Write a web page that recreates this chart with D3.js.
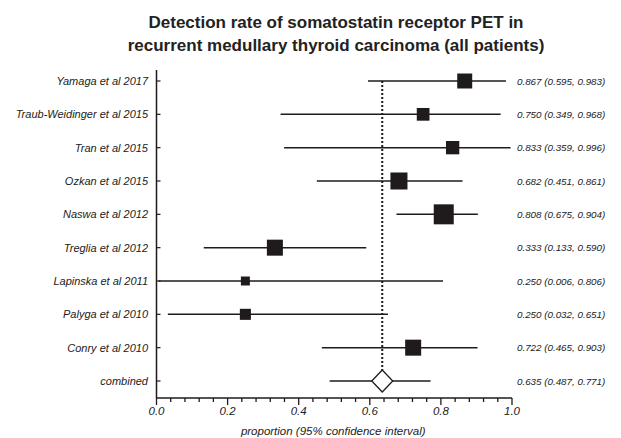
<!DOCTYPE html>
<html>
<head>
<meta charset="utf-8">
<script src="https://cdn.jsdelivr.net/npm/d3@7"></script>
<style>
  html, body { margin: 0; padding: 0; background: #fff; }
  svg { display: block; }
  text { font-family: "Liberation Sans", Arial, Helvetica, sans-serif; fill: #222; }
</style>
</head>
<body>
<svg id="chart" width="621" height="438"></svg>
<script>
const studies = ["Yamaga et al 2017", "Traub-Weidinger et al 2015", "Tran et al 2015", "Ozkan et al 2015",
  "Naswa et al 2012", "Treglia et al 2012", "Lapinska et al 2011", "Palyga et al 2010", "Conry et al 2010"];
const estimate = [0.867, 0.750, 0.833, 0.682, 0.808, 0.333, 0.250, 0.250, 0.722];
const lower    = [0.595, 0.349, 0.359, 0.451, 0.675, 0.133, 0.006, 0.032, 0.465];
const upper    = [0.983, 0.968, 0.996, 0.861, 0.904, 0.590, 0.806, 0.651, 0.903];
const weights  = [11.4, 8.2, 9.0, 14.7, 20.3, 13.0, 4.1, 6.2, 13.0];
const combined = { label: "combined", est: 0.635, lo: 0.487, hi: 0.771 };
const majorTicks = [0, 0.2, 0.4, 0.6, 0.8, 1.0];
const minorTicks = d3.range(0, 1.0001, 0.04);
const titleLines = ["Detection rate of somatostatin receptor PET in", "recurrent medullary thyroid carcinoma (all patients)"];
const xTitle = "proportion (95% confidence interval)";

const svg = d3.select("#chart");
const ink = "#1f1b1c";

const rows = studies.concat([combined.label]);
const x = d3.scaleLinear().domain([0, 1]).range([156.5, 512]);
const y = d3.scalePoint().domain(rows).range([81, 381]);
const size = d3.scaleSqrt().domain([0, 20.3]).range([0, 20]);

// Title
svg.append("g").selectAll("text").data(titleLines).join("text")
  .attr("x", 336).attr("y", (d, i) => 28 + i * 23)
  .attr("text-anchor", "middle")
  .style("font-size", "17px").style("font-weight", "bold")
  .text(d => d);

// Y axis line
svg.append("line").attr("x1", x(0)).attr("x2", x(0)).attr("y1", 70).attr("y2", 398)
  .attr("stroke", ink).attr("stroke-width", 1.5);
svg.append("g").selectAll("line").data(rows).join("line")
  .attr("x1", x(0)).attr("x2", x(0) + 4)
  .attr("y1", d => y(d)).attr("y2", d => y(d))
  .attr("stroke", ink).attr("stroke-width", 1.2);

// X axis
const axisY = 398;
svg.append("line").attr("x1", x(0)).attr("x2", x(1)).attr("y1", axisY).attr("y2", axisY)
  .attr("stroke", ink).attr("stroke-width", 1.5);
svg.append("g").selectAll("line").data(minorTicks).join("line")
  .attr("x1", d => x(d)).attr("x2", d => x(d))
  .attr("y1", axisY).attr("y2", d => majorTicks.some(m => Math.abs(m - d) < 1e-6) ? axisY + 7 : axisY + 4)
  .attr("stroke", ink).attr("stroke-width", 1.3);
svg.append("g").selectAll("text").data(majorTicks).join("text")
  .attr("x", d => x(d)).attr("y", axisY + 17)
  .attr("text-anchor", "middle")
  .style("font-size", "11.5px").style("font-style", "italic")
  .text(d => d3.format(".1f")(d));
svg.append("text").attr("x", x(0.5) - 1).attr("y", 435)
  .attr("text-anchor", "middle")
  .style("font-size", "11.5px").style("font-style", "italic")
  .text(xTitle);

// dotted combined line
svg.append("line").attr("x1", x(combined.est)).attr("x2", x(combined.est))
  .attr("y1", y(studies[0])).attr("y2", y(combined.label) - 11)
  .attr("stroke", ink).attr("stroke-width", 2).attr("stroke-dasharray", "2,2");

// Study labels
svg.append("g").selectAll("text").data(rows).join("text")
  .attr("x", 148).attr("y", d => y(d) + 4)
  .attr("text-anchor", "end")
  .style("font-size", "11px").style("font-style", "italic")
  .text(d => d);

// CI lines and squares
const ciData = studies.map((s, i) => ({ s, est: estimate[i], lo: lower[i], hi: upper[i], w: weights[i] }));
svg.append("g").selectAll("line").data(ciData).join("line")
  .attr("x1", d => x(d.lo)).attr("x2", d => x(d.hi))
  .attr("y1", d => y(d.s)).attr("y2", d => y(d.s))
  .attr("stroke", ink).attr("stroke-width", 1.5);
svg.append("g").selectAll("rect").data(ciData).join("rect")
  .attr("x", d => x(d.est) - size(d.w) / 2).attr("y", d => y(d.s) - size(d.w) / 2)
  .attr("width", d => size(d.w)).attr("height", d => size(d.w))
  .attr("fill", ink);

// combined
const cy = y(combined.label);
svg.append("line").attr("x1", x(combined.lo)).attr("x2", x(combined.hi))
  .attr("y1", cy).attr("y2", cy).attr("stroke", ink).attr("stroke-width", 1.5);
const cx = x(combined.est);
svg.append("path")
  .attr("d", `M${cx},${cy - 11}L${cx + 10.5},${cy}L${cx},${cy + 11}L${cx - 10.5},${cy}Z`)
  .attr("fill", "#fff").attr("stroke", ink).attr("stroke-width", 1.3);

// Right-side values
const f = d3.format(".3f");
const rightData = ciData.map(d => ({ s: d.s, t: `${f(d.est)} (${f(d.lo)}, ${f(d.hi)})` }))
  .concat([{ s: combined.label, t: `${f(combined.est)} (${f(combined.lo)}, ${f(combined.hi)})` }]);
svg.append("g").selectAll("text").data(rightData).join("text")
  .attr("x", 517).attr("y", d => y(d.s) + 3.5)
  .style("font-size", "9.8px").style("font-style", "italic")
  .text(d => d.t);
</script>
</body>
</html>
